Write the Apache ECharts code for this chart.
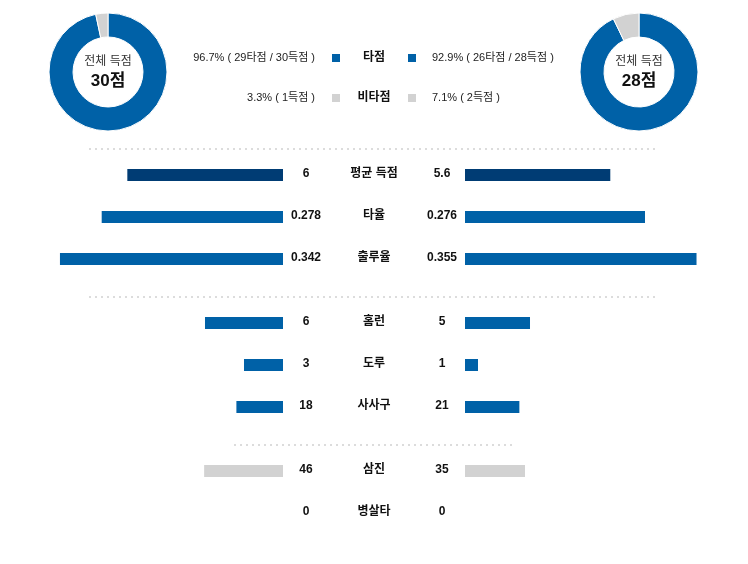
<!DOCTYPE html>
<html><head><meta charset="utf-8">
<script src="https://cdn.jsdelivr.net/npm/echarts@6/dist/echarts.min.js"></script>
<style>html,body{margin:0;padding:0;background:#fff}#c{width:748px;height:564px}</style>
</head><body><div id="c"></div>
<script>
// ---- data ----
const categories = ['평균 득점','타율','출루율','홈런','도루','사사구','삼진','병살타'];
const leftValues = [6, 0.278, 0.342, 6, 3, 18, 46, 0];
const rightValues = [5.6, 0.276, 0.355, 5, 1, 21, 35, 0];
const leftTotalRuns = 30, leftRBIRuns = 29;
const rightTotalRuns = 28, rightRBIRuns = 26;
const donutLabels = ['타점','비타점'];

// ---- layout / style ----
const rowY = [175, 217, 259, 323, 365, 407, 471, 513];
const rowAxisMax = [9.25, 0.368, 0.368, 18.46, 18.46, 92.7, 140, 10];
const rowColor = ['#003c74','#0061a7','#0061a7','#0061a7','#0061a7','#0061a7','#d2d2d2','#d2d2d2'];
const BLUE = '#0061a7', GRAY = '#d2d2d2';
const FONT = '"Liberation Sans", Arial, "Noto Sans CJK KR", sans-serif';
const GW = 240, LEFT_END = 283, RIGHT_START = 465;

const grids = [], xAxes = [], yAxes = [], series = [], graphic = [];
categories.forEach((c, i) => {
  const top = rowY[i] - 6;
  grids.push({left: LEFT_END - GW, width: GW, top: top, height: 12});
  grids.push({left: RIGHT_START, width: GW, top: top, height: 12});
  xAxes.push({gridIndex: 2*i, type: 'value', min: 0, max: rowAxisMax[i], inverse: true, show: false});
  xAxes.push({gridIndex: 2*i+1, type: 'value', min: 0, max: rowAxisMax[i], show: false});
  yAxes.push({gridIndex: 2*i, type: 'category', data: [c], show: false});
  yAxes.push({gridIndex: 2*i+1, type: 'category', data: [c], show: false});
  series.push({type: 'bar', xAxisIndex: 2*i, yAxisIndex: 2*i, data: [leftValues[i]], barWidth: 12, itemStyle: {color: rowColor[i]}, silent: true});
  series.push({type: 'bar', xAxisIndex: 2*i+1, yAxisIndex: 2*i+1, data: [rightValues[i]], barWidth: 12, itemStyle: {color: rowColor[i]}, silent: true});
  const ts = {font: 'bold 12px ' + FONT, fill: '#111', textAlign: 'center', textVerticalAlign: 'middle'};
  graphic.push({type: 'text', x: 306, y: rowY[i] - 1, style: Object.assign({text: String(leftValues[i])}, ts)});
  graphic.push({type: 'text', x: 442, y: rowY[i] - 1, style: Object.assign({text: String(rightValues[i])}, ts)});
  graphic.push({type: 'text', x: 374, y: rowY[i] - 1, style: Object.assign({text: c}, ts)});
});

// dotted separators
[[89, 657, 149], [89, 657, 297], [234, 513, 445]].forEach(([x1, x2, y]) => {
  graphic.push({type: 'line', shape: {x1: x1, y1: y, x2: x2, y2: y}, style: {stroke: '#dcdcdc', lineWidth: 2, lineDash: [2, 4]}});
});

// donut centers text
function donutText(cx, total) {
  graphic.push({type: 'text', x: cx, y: 62, style: {text: '전체 득점', font: '12px ' + FONT, fill: '#333', textAlign: 'center', textVerticalAlign: 'middle'}});
  graphic.push({type: 'text', x: cx, y: 81, style: {text: total + '점', font: 'bold 17px ' + FONT, fill: '#111', textAlign: 'center', textVerticalAlign: 'middle'}});
}
donutText(108, leftTotalRuns);
donutText(639, rightTotalRuns);

// middle legend
const pct = (a, b) => (a / b * 100).toFixed(1) + '%';
const lNon = leftTotalRuns - leftRBIRuns, rNon = rightTotalRuns - rightRBIRuns;
const legendRows = [
  {y: 58, color: BLUE, label: donutLabels[0],
   lt: pct(leftRBIRuns, leftTotalRuns) + ' ( ' + leftRBIRuns + '타점 / ' + leftTotalRuns + '득점 )',
   rt: pct(rightRBIRuns, rightTotalRuns) + ' ( ' + rightRBIRuns + '타점 / ' + rightTotalRuns + '득점 )'},
  {y: 98, color: GRAY, label: donutLabels[1],
   lt: pct(lNon, leftTotalRuns) + ' ( ' + lNon + '득점 )',
   rt: pct(rNon, rightTotalRuns) + ' ( ' + rNon + '득점 )'}
];
legendRows.forEach(r => {
  graphic.push({type: 'text', x: 315, y: r.y, style: {text: r.lt, font: '11px ' + FONT, fill: '#222', textAlign: 'right', textVerticalAlign: 'middle'}});
  graphic.push({type: 'rect', shape: {x: 332, y: r.y - 4, width: 8, height: 8}, style: {fill: r.color}});
  graphic.push({type: 'text', x: 374, y: r.y, style: {text: r.label, font: 'bold 12px ' + FONT, fill: '#111', textAlign: 'center', textVerticalAlign: 'middle'}});
  graphic.push({type: 'rect', shape: {x: 408, y: r.y - 4, width: 8, height: 8}, style: {fill: r.color}});
  graphic.push({type: 'text', x: 432, y: r.y, style: {text: r.rt, font: '11px ' + FONT, fill: '#222', textAlign: 'left', textVerticalAlign: 'middle'}});
});

function donut(cx, rbi, total) {
  return {type: 'pie', center: [cx, 72], radius: [35, 59], silent: true, label: {show: false}, labelLine: {show: false},
    startAngle: 90, clockwise: true,
    itemStyle: {borderColor: '#fff', borderWidth: 1},
    data: [{name: donutLabels[0], value: rbi, itemStyle: {color: BLUE}}, {name: donutLabels[1], value: total - rbi, itemStyle: {color: GRAY}}]};
}
series.push(donut(108, leftRBIRuns, leftTotalRuns));
series.push(donut(639, rightRBIRuns, rightTotalRuns));

const chart = echarts.init(document.getElementById('c'), null, {renderer: 'canvas'});
chart.setOption({animation: false, backgroundColor: '#fff', grid: grids, xAxis: xAxes, yAxis: yAxes, series: series, graphic: graphic});
</script></body></html>
